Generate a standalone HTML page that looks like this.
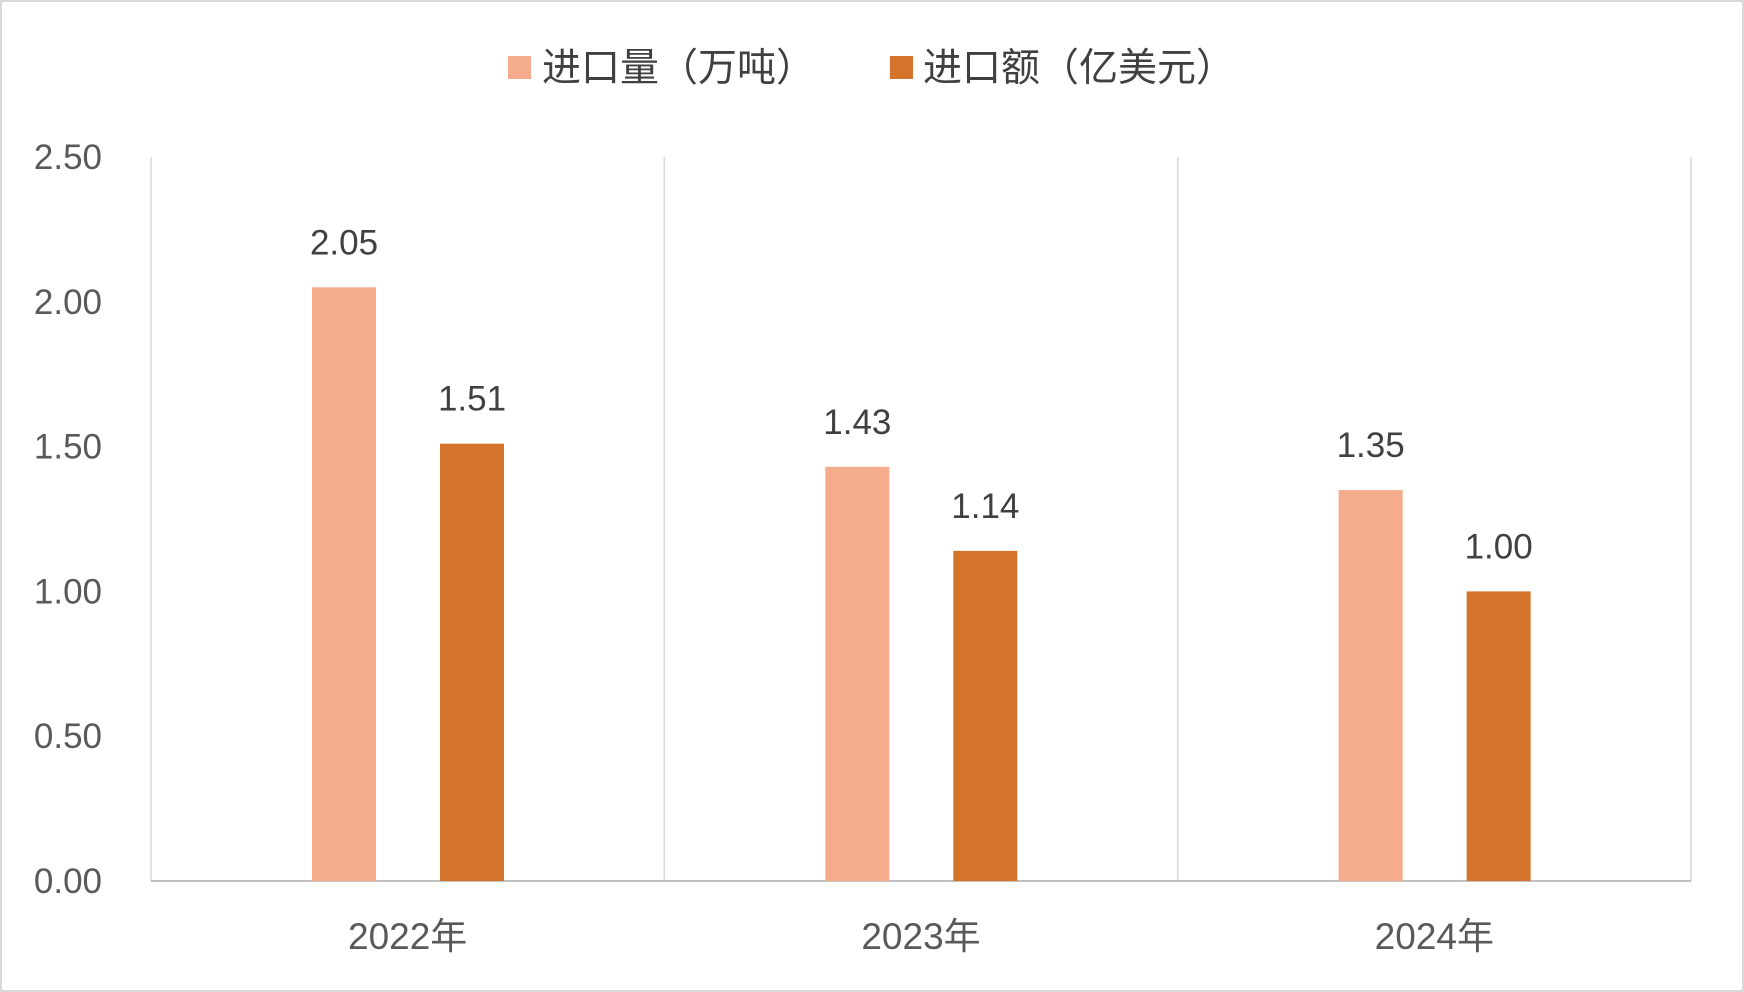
<!DOCTYPE html>
<html><head><meta charset="utf-8"><style>
html,body{margin:0;padding:0;background:#fff}
svg{display:block;font-family:"Liberation Sans","Noto Sans CJK SC",sans-serif}
</style></head><body>
<svg id="chart" width="1744" height="992">
<rect x="1" y="1" width="1742" height="990" fill="#fff" stroke="#d9d9d9" stroke-width="2"/>
<g>
<rect x="508" y="56" width="23" height="23" fill="#F4AC8C"/>
<text x="542" y="81" font-size="39" fill="#404040">进口量（万吨）</text>
<rect x="890" y="56" width="23" height="23" fill="#D4732A"/>
<text x="923" y="81" font-size="39" fill="#404040">进口额（亿美元）</text>
</g>
<g id="grid"></g><g id="bars"></g><g id="labels"></g>
</svg>
<script>
const categories = ["2022年","2023年","2024年"];
const volume = [2.05,1.43,1.35];
const value = [1.51,1.14,1.00];
const ticks = [0,0.5,1,1.5,2,2.5];
const NS="http://www.w3.org/2000/svg";
const L=151,R=1691,Y0=881,Ytop=157,maxV=2.5;
const cw=(R-L)/categories.length;
const y=v=>Y0-(v/maxV)*(Y0-Ytop);
function mk(tag,attrs,parent,text){const e=document.createElementNS(NS,tag);for(const k in attrs)e.setAttribute(k,attrs[k]);if(text!==undefined)e.textContent=text;document.getElementById(parent).appendChild(e);return e;}
ticks.forEach(t=>{
 const e=mk("text",{x:102,y:y(t)+12,"font-size":35,fill:"#595959","text-anchor":"end"},"grid",t.toFixed(2));
 
 
});
for(let i=0;i<=categories.length;i++){
 const e=mk("line",{x1:L+i*cw,x2:L+i*cw,y1:Ytop,y2:Y0,stroke:"#d9d9d9","stroke-width":1.5},"grid");
 
 
}
const ax=mk("line",{x1:L,x2:R,y1:Y0,y2:Y0,stroke:"#bfbfbf","stroke-width":2},"grid");


categories.forEach((c,i)=>{
 const x0=L+i*cw;
 [[volume[i],161,"#F4AC8C","volume"],[value[i],289,"#D4732A","value"]].forEach(([v,off,col,nm])=>{
  const b=mk("rect",{x:x0+off,y:y(v),width:64,height:Y0-y(v),fill:col},"bars");
  
  
  const t=mk("text",{x:x0+off+32,y:y(v)-33,"font-size":35,fill:"#404040","text-anchor":"middle"},"labels",v.toFixed(2));
  
  
 });
 const xl=mk("text",{x:x0+cw/2,y:949,"font-size":37,fill:"#595959","text-anchor":"middle"},"labels",c);
 
 
});
</script>
</body></html>
